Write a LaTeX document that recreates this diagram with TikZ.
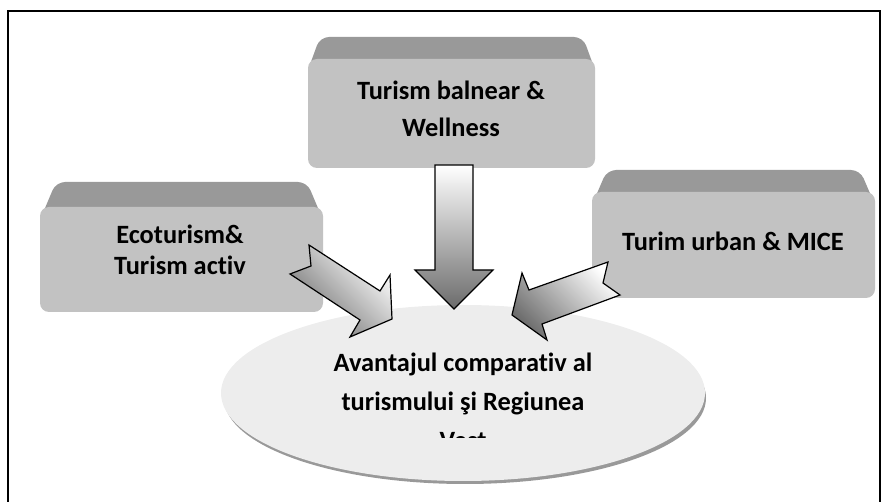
\documentclass[tikz,border=0pt]{standalone}
\usepackage{fontspec}
\setmainfont[Ligatures=NoCommon]{Carlito}
\usetikzlibrary{positioning}

\begin{document}
\begin{tikzpicture}[x=1pt,y=-1pt,
  boxtop/.style={fill=black!40,rounded corners=9pt},
  boxbody/.style={fill=black!24,rounded corners=9pt},
  lbl/.style={font=\bfseries\fontsize{26.4}{36.7}\selectfont,align=center,inner sep=0pt},
  blockarrow/.style={draw=black,line width=1.2pt,line join=miter,top color=white,bottom color=black!58}]
\useasboundingbox (0,0) rectangle (884,502);
\clip (0,0) rectangle (884,502);
\draw[line width=1.6pt] (8,11) rectangle (880,530);

% comparative advantage
\fill[black!40] (465,398) ellipse (241 and 86);
\fill[black!7] (463,393) ellipse (242 and 88);

% the three boxes
\fill[boxtop] (308,70) -- (320,37) -- (583,37) -- (595,70) -- cycle;
\fill[boxbody] (308,59) rectangle (595,168);
\fill[boxtop] (40,220) -- (56,182) -- (307,182) -- (323,220) -- cycle;
\fill[boxbody] (40,207) rectangle (323,312);
\fill[boxtop] (592,205) -- (607,170) -- (860,170) -- (875,205) -- cycle;
\fill[boxbody] (592,192) rectangle (875,298);

\node[lbl] (wellness) at (451,109) {Turism balnear \&\\Wellness};
\node[lbl,font=\bfseries\fontsize{26.4}{31}\selectfont] (eco) at (180,250) {Ecoturism\&\\Turism activ};
\node[lbl] (urban) at (733,241) {Turim urban \& MICE};

% arrows
\path[blockarrow] (435,165) -- (473,165) -- (473,270) -- (493,270) -- (454,309)
  -- (415,270) -- (435,270) -- cycle;
\path[blockarrow,shading angle=-45] (309,245) -- (380,291) -- (390,275) -- (392,319)
  -- (350,337) -- (360,320) -- (290,274) -- (311,266) -- cycle;
\path[blockarrow,shading angle=-45] (608,262) -- (603,283) -- (620,295) -- (542,324)
  -- (547,340) -- (512,315) -- (522,273) -- (529,290) -- cycle;

\begin{scope}
  \clip (200,340) rectangle (720,438);
  \node[lbl,font=\bfseries\fontsize{26.4}{39}\selectfont] (avantaj) at (463,401.5)
    {Avantajul comparativ al\\turismului şi Regiunea\\Vest};
\end{scope}
\end{tikzpicture}
\end{document}
